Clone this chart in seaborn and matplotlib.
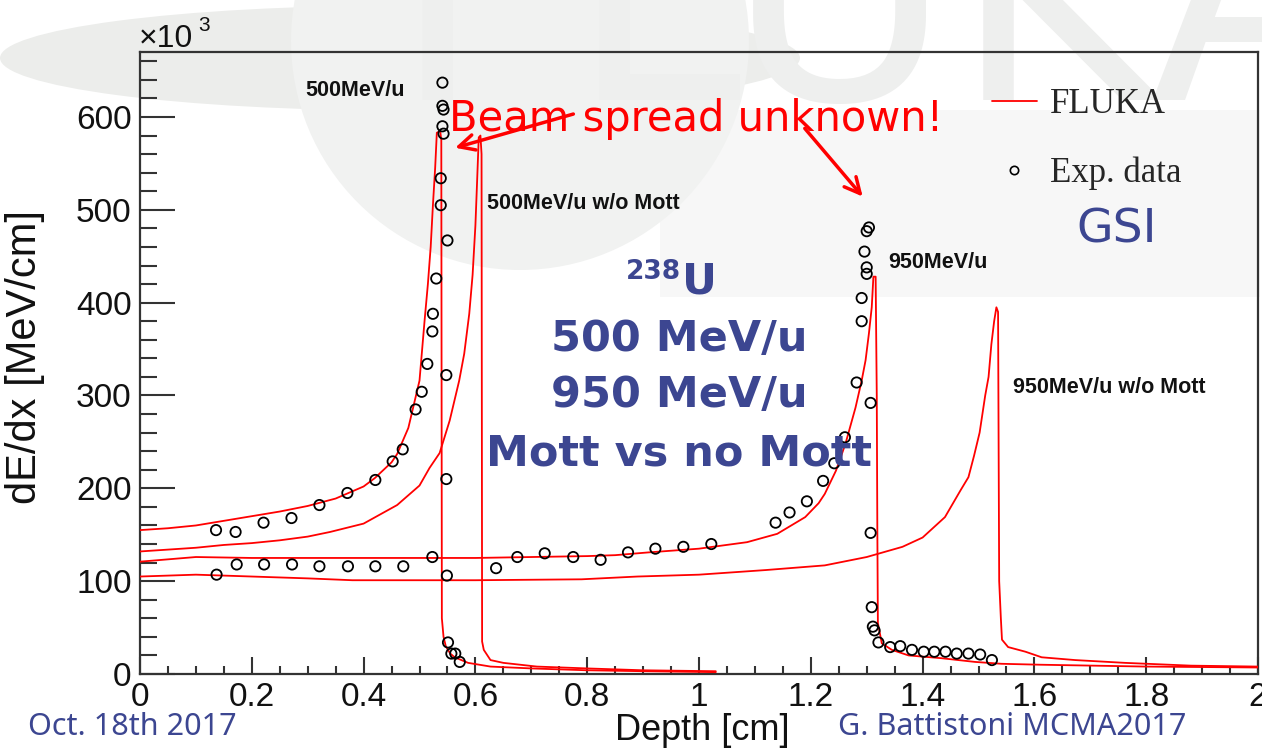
import numpy as np
import pandas as pd
import matplotlib
matplotlib.use('Agg')
import matplotlib.pyplot as plt
import seaborn as sns
from matplotlib.lines import Line2D
from matplotlib.patches import Ellipse, Rectangle
from matplotlib.ticker import MultipleLocator, FuncFormatter

# ---------------- data (dE/dx in units of 10^3 MeV/cm) ----------------
# FLUKA, 500 MeV/u with Mott
a_x = [0.00, 0.05, 0.10, 0.16, 0.20, 0.25, 0.30, 0.35, 0.40, 0.42, 0.45, 0.46, 0.48, 0.50, 0.509,
       0.515, 0.520, 0.524, 0.528, 0.531, 0.537, 0.539, 0.540, 0.543, 0.547, 0.555, 0.563, 0.587,
       0.627, 0.70, 0.80, 0.90, 1.03]
a_y = [155, 157, 160, 166, 170, 175, 181, 189, 202, 211, 228, 237, 265, 316, 380,
       420, 460, 505, 545, 583, 585, 575, 60, 40, 30, 22, 18, 12,
       8, 6, 4, 3, 2]
# FLUKA, 500 MeV/u w/o Mott
b_x = [0.00, 0.05, 0.10, 0.15, 0.20, 0.25, 0.30, 0.34, 0.40, 0.46, 0.50, 0.518, 0.536, 0.554,
       0.571, 0.580, 0.589, 0.595, 0.600, 0.603, 0.606, 0.609, 0.611, 0.612, 0.615, 0.627, 0.65,
       0.71, 0.80, 0.90, 1.03]
b_y = [132, 134, 136, 139, 141, 144, 148, 153, 162, 182, 203, 222, 238, 273,
       316, 345, 388, 430, 483, 530, 578, 580, 560, 35, 26, 15, 12,
       8, 6, 4, 3]
# FLUKA, 950 MeV/u with Mott
c_x = [0.00, 0.10, 0.20, 0.30, 0.40, 0.50, 0.60, 0.70, 0.80, 0.85, 0.91, 1.00, 1.086, 1.14,
       1.19, 1.214, 1.225, 1.245, 1.262, 1.28, 1.291, 1.298, 1.304, 1.309, 1.312, 1.316, 1.318,
       1.319, 1.320, 1.327, 1.345, 1.375, 1.434, 1.494, 1.541, 1.61, 1.80, 2.00]
c_y = [121, 126, 125, 125, 125, 125, 125, 126, 127, 128, 131, 135, 142, 151,
       169, 184, 194, 219, 248, 287, 316, 338, 367, 395, 428, 428, 300,
       160, 55, 33, 26, 20, 17, 13, 11, 10, 8, 7]
# FLUKA, 950 MeV/u w/o Mott
d_x = [0.00, 0.10, 0.20, 0.30, 0.38, 0.50, 0.60, 0.79, 0.89, 1.00, 1.12, 1.225, 1.30, 1.364,
       1.40, 1.44, 1.468, 1.482, 1.492, 1.502, 1.512, 1.518, 1.523, 1.528, 1.532, 1.535, 1.537,
       1.540, 1.542, 1.553, 1.584, 1.613, 1.673, 1.762, 1.88, 2.00]
d_y = [105, 107, 105, 103, 101, 101, 101, 102, 105, 107, 112, 117, 126, 137,
       147, 169, 198, 212, 235, 260, 300, 320, 355, 380, 395, 390, 100,
       60, 37, 29, 24, 18, 15, 12, 9, 8]

# Experimental data (GSI)
exp500_x = [0.136, 0.171, 0.221, 0.271, 0.321, 0.371, 0.421, 0.452, 0.470, 0.493, 0.504, 0.514,
            0.523, 0.524, 0.530, 0.538, 0.538, 0.541, 0.543, 0.541, 0.543, 0.541, 0.550, 0.548,
            0.548, 0.549, 0.551, 0.557, 0.564, 0.572]
exp500_y = [155, 153, 163, 168, 182, 195, 209, 229, 242, 285, 304, 334,
            369, 388, 426, 505, 534, 590, 582, 612, 608, 637, 467, 322,
            210, 106, 34, 22, 22, 13]
exp950_x = [0.137, 0.173, 0.222, 0.272, 0.321, 0.372, 0.421, 0.471, 0.523, 0.637, 0.675, 0.724,
            0.775, 0.824, 0.873, 0.922, 0.972, 1.022, 1.137, 1.162, 1.193, 1.222, 1.242, 1.261,
            1.282, 1.307, 1.291, 1.291, 1.300, 1.300, 1.296, 1.300, 1.304, 1.307, 1.309, 1.311,
            1.314, 1.321, 1.342, 1.360, 1.381, 1.402, 1.421, 1.441, 1.461, 1.482, 1.503, 1.524]
exp950_y = [107, 118, 118, 118, 116, 116, 116, 116, 126, 114, 126, 130,
            126, 123, 131, 135, 137, 140, 163, 174, 186, 208, 227, 255,
            314, 292, 380, 405, 431, 438, 455, 477, 481, 152, 72, 51,
            47, 34, 29, 30, 26, 24, 24, 24, 22, 22, 21, 15]

curve_names = ['500MeV/u', '500MeV/u w/o Mott', '950MeV/u', '950MeV/u w/o Mott']
x_ticks = [0, 0.2, 0.4, 0.6, 0.8, 1.0, 1.2, 1.4, 1.6, 1.8, 2.0]
y_ticks = [0, 100, 200, 300, 400, 500, 600]
legend_labels = ['FLUKA', 'Exp. data']

# ---------------- build frames ----------------
curves = pd.concat([
    pd.DataFrame({'depth': xs, 'dedx': ys, 'curve': n})
    for xs, ys, n in zip([a_x, b_x, c_x, d_x], [a_y, b_y, c_y, d_y], curve_names)
], ignore_index=True)
exp = pd.DataFrame({'depth': exp500_x + exp950_x, 'dedx': exp500_y + exp950_y})

# ---------------- figure ----------------
sns.set_theme(style='white')
plt.rcParams['font.family'] = ['Liberation Sans', 'DejaVu Sans']

W, H = 1262, 753
fig = plt.figure(figsize=(W / 100, H / 100), dpi=100)
fig.patch.set_facecolor('white')

def fx(px):
    return px / W

def fy(py):
    return 1 - py / H

# slide watermark (background, very faint)
fig.add_artist(Rectangle((fx(660), fy(297)), fx(600), (297 - 110) / H,
                         transform=fig.transFigure, color='#f7f7f7', zorder=-21, lw=0))
fig.add_artist(Ellipse((fx(400), fy(58)), fx(800), 105 / H, angle=0,
                       transform=fig.transFigure, color='#ecedeb', zorder=-20, lw=0))
fig.add_artist(Ellipse((fx(520), fy(41)), 2 * 229 / W, 2 * 229 / H,
                       transform=fig.transFigure, color='#f1f2f1', zorder=-19, lw=0))
fig.text(fx(392), fy(100), 'FLUKA', fontsize=223, family='DejaVu Sans', color='#eeefee',
         zorder=-18, va='baseline', ha='left')

ax = fig.add_axes([fx(140), fy(674), (1258 - 140) / W, (674 - 52) / H])
ax.set_facecolor('none')

sns.lineplot(data=curves, x='depth', y='dedx', hue='curve', palette=['#ff0000'] * 4,
             estimator=None, sort=False, legend=False, lw=1.3, ax=ax, zorder=3)
sns.scatterplot(data=exp, x='depth', y='dedx', marker='o', s=55, facecolors='none',
                edgecolor='black', linewidth=1.3, legend=False, ax=ax, zorder=4)

ax.set_xlim(0, 2)
ax.set_ylim(0, 670)
ax.set_xticks(x_ticks)
ax.set_yticks(y_ticks)
ax.xaxis.set_minor_locator(MultipleLocator(0.05))
ax.yaxis.set_minor_locator(MultipleLocator(20))
ax.xaxis.set_major_formatter(FuncFormatter(lambda v, p: f'{v:g}'))
ax.yaxis.set_major_formatter(FuncFormatter(lambda v, p: f'{v:g}'))
for s in ax.spines.values():
    s.set_color('#333333')
    s.set_linewidth(1.6)
ax.tick_params(axis='both', which='both', direction='in', color='#333333', width=1.5,
               labelsize=24, labelcolor='#111111')
ax.tick_params(axis='y', which='major', length=25, pad=6)
ax.tick_params(axis='y', which='minor', length=12)
ax.tick_params(axis='x', which='major', length=12.5, pad=6)
ax.tick_params(axis='x', which='minor', length=6)
ax.tick_params(bottom=True, left=True, top=False, right=False, which='both')

ax.set_xlabel('Depth [cm]', fontsize=26, color='#111111')
ax.set_ylabel('dE/dx [MeV/cm]', fontsize=30, color='#111111')
ax.xaxis.set_label_coords(0.503, -0.062)
ax.yaxis.set_label_coords(-0.085, 0.51)

fig.text(fx(139), fy(47), '\u00d710', fontsize=23, color='#111111', va='baseline')
fig.text(fx(198), fy(31), '3', fontsize=15, color='#111111', va='baseline')

# curve labels
lab_kw = dict(fontsize=15.5, fontweight='bold', color='#111111', va='baseline', ha='left', zorder=5)
ax.text(0.295, 623, curve_names[0], **lab_kw)
ax.text(0.62, 501, curve_names[1], **lab_kw)
ax.text(1.338, 437, curve_names[2], **lab_kw)
ax.text(1.5625, 303, curve_names[3], **lab_kw)

# legend
handles = [Line2D([], [], color='#ff0000', lw=1.3),
           Line2D([], [], marker='o', ls='none', mfc='none', mec='black', ms=6, mew=1.2)]
ax.legend(handles, legend_labels, loc='upper left', bbox_to_anchor=(0.762, 0.942),
          frameon=False, prop={'family': 'Liberation Serif', 'size': 25},
          handlelength=1.3, handletextpad=0.37, labelspacing=1.03, borderpad=0,
          borderaxespad=0)

# slide annotations
blue = '#3c4691'
bkw = dict(color=blue, fontweight='bold', family='DejaVu Sans', ha='center', va='baseline', zorder=6)
ax.text(0.964, 348, '500 MeV/u', fontsize=31, **bkw)
ax.text(0.964, 288, '950 MeV/u', fontsize=31, **bkw)
ax.text(0.965, 225, 'Mott vs no Mott', fontsize=31, **bkw)
ax.text(1.0, 410, 'U', fontsize=31, **bkw)
ax.text(0.918, 426, '238', fontsize=19, **bkw)
ax.text(1.675, 465, 'GSI', fontsize=34, color=blue, family='DejaVu Sans', ha='left',
        va='baseline', zorder=6)

ax.text(0.552, 585, 'Beam spread unknown!', fontsize=30, color='#ff0000', family='DejaVu Sans',
        ha='left', va='baseline', zorder=6)
ax.annotate('', xy=(0.559, 566), xytext=(0.780, 604),
            arrowprops=dict(arrowstyle='->', color='#ff0000', lw=2.5, mutation_scale=28), zorder=6)
ax.annotate('', xy=(1.296, 512), xytext=(1.186, 590),
            arrowprops=dict(arrowstyle='->', color='#ff0000', lw=2.5, mutation_scale=28), zorder=6)

fig.text(fx(28), fy(735), 'Oct. 18th 2017', fontsize=22, family='Noto Sans', color=blue,
         va='baseline', ha='left')
fig.text(fx(838), fy(735), 'G. Battistoni MCMA2017', fontsize=22, family='Noto Sans',
         color=blue, va='baseline', ha='left')

fig.savefig('out.png', dpi=100, facecolor='white')
